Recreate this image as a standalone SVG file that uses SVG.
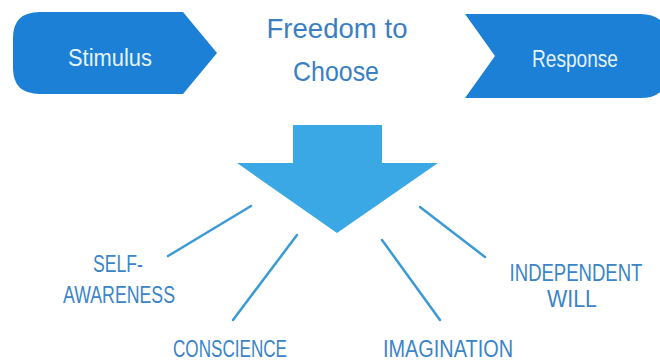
<svg xmlns="http://www.w3.org/2000/svg" width="660" height="363" viewBox="0 0 660 363">
  <style>
    .tag { fill: #1b80d6; }
    .tag-text { font-family: "Liberation Sans", Arial, sans-serif; font-size: 23px; fill: #e6f2fc; text-anchor: middle; }
    .title { font-family: "Liberation Sans", Arial, sans-serif; font-size: 28px; fill: #3a7fc4; text-anchor: middle; }
    .label { font-family: "Liberation Sans", Arial, sans-serif; font-size: 23px; fill: #3b84c7; text-anchor: middle; }
    .link { stroke: #3c9ad6; stroke-width: 2.5; stroke-linecap: round; fill: none; }
  </style>
  <rect width="660" height="363" fill="#ffffff"/>

  <g id="stimulus">
    <path class="tag" d="M 40 12 L 183 12 L 217 53 L 183 94 L 40 94 Q 13 94 13 68 L 13 38 Q 13 12 40 12 Z"/>
    <text class="tag-text" x="110" y="66" textLength="84" lengthAdjust="spacingAndGlyphs">Stimulus</text>
  </g>

  <g id="freedom">
    <text class="title" x="337" y="38" textLength="141" lengthAdjust="spacingAndGlyphs">Freedom to</text>
    <text class="title" x="336" y="81" textLength="86" lengthAdjust="spacingAndGlyphs">Choose</text>
  </g>

  <g id="response">
    <path class="tag" d="M 465 14 L 640 14 Q 668 14 668 42 L 668 71 Q 668 98 640 98 L 465 98 L 495 56 Z"/>
    <text class="tag-text" x="575" y="67" textLength="86" lengthAdjust="spacingAndGlyphs">Response</text>
  </g>

  <g id="choice-arrow">
    <path d="M 293 125 L 382 125 L 382 163 L 438 163 L 337 233 L 237 163 L 293 163 Z" fill="#3aa8e5"/>
  </g>

  <g id="connectors">
    <line class="link" x1="251" y1="206" x2="168" y2="256"/>
    <line class="link" x1="297" y1="235" x2="233" y2="320"/>
    <line class="link" x1="382" y1="240" x2="440" y2="320"/>
    <line class="link" x1="420" y1="207" x2="485" y2="257"/>
  </g>

  <g id="self-awareness">
    <text class="label" x="118" y="272" textLength="50" lengthAdjust="spacingAndGlyphs">SELF-</text>
    <text class="label" x="119" y="303" textLength="112" lengthAdjust="spacingAndGlyphs">AWARENESS</text>
  </g>

  <g id="conscience">
    <text class="label" x="230" y="357" textLength="114" lengthAdjust="spacingAndGlyphs">CONSCIENCE</text>
  </g>

  <g id="imagination">
    <text class="label" x="448" y="357" textLength="130" lengthAdjust="spacingAndGlyphs">IMAGINATION</text>
  </g>

  <g id="independent-will">
    <!-- narrowed horizontally to keep the wide word inside the right margin -->
    <text class="label" transform="translate(576 281) scale(0.806 1)" x="0" y="0">INDEPENDENT</text>
    <text class="label" x="572" y="307" textLength="50" lengthAdjust="spacingAndGlyphs">WILL</text>
  </g>
</svg>
